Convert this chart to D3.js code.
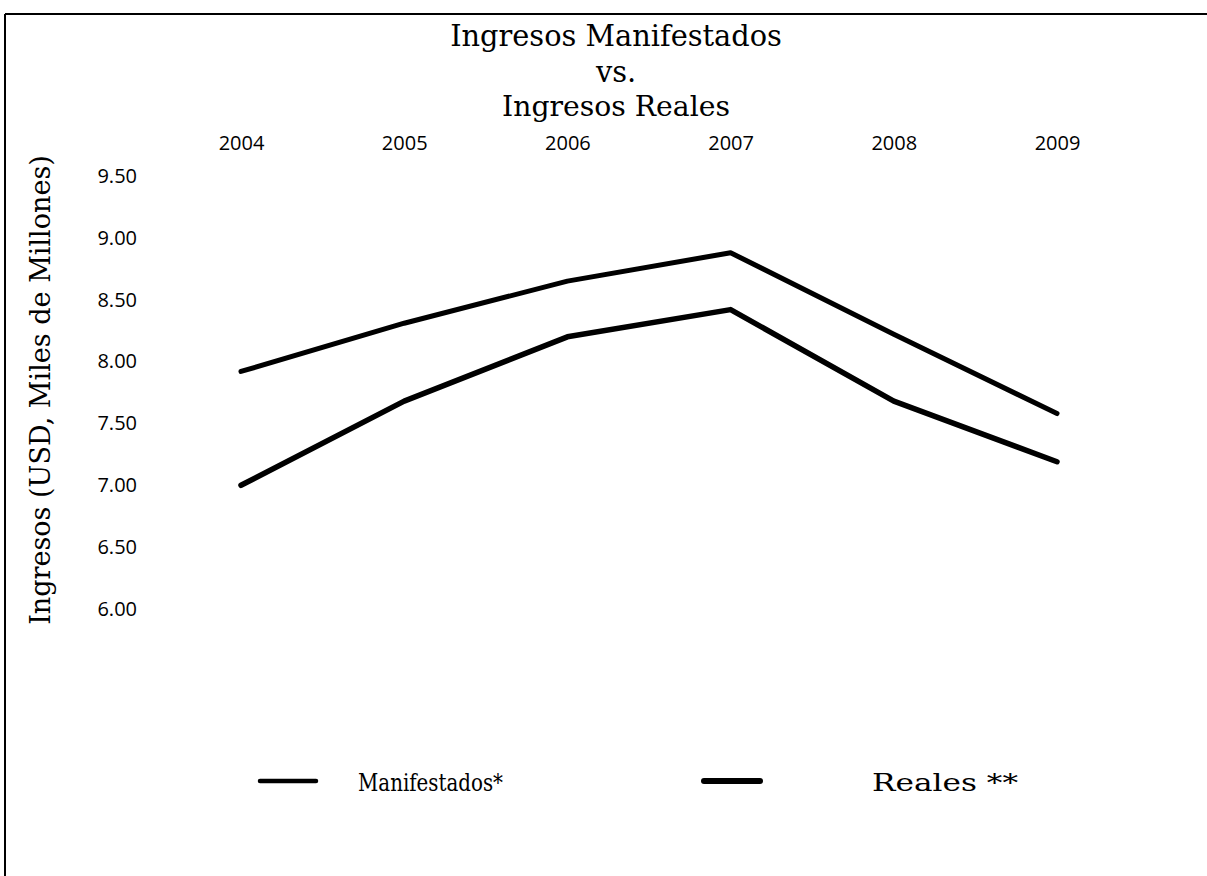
<!DOCTYPE html>
<html>
<head>
<meta charset="utf-8">
<script src="https://cdn.jsdelivr.net/npm/d3@7"></script>
<style>
  html, body { margin: 0; padding: 0; background: #fff; }
  svg { display: block; }
</style>
</head>
<body>
<svg id="chart" width="1207" height="876"></svg>
<script>
const years = ["2004", "2005", "2006", "2007", "2008", "2009"];
const manifestados = [7.92, 8.31, 8.65, 8.88, 8.22, 7.58];
const reales = [7.00, 7.68, 8.20, 8.42, 7.68, 7.19];
const yTicks = [6.0, 6.5, 7.0, 7.5, 8.0, 8.5, 9.0, 9.5];
const titleLines = ["Ingresos Manifestados", "vs.", "Ingresos Reales"];
const yAxisTitle = "Ingresos (USD, Miles de Millones)";
const legendLabels = ["Manifestados*", "Reales **"];

const svg = d3.select("#chart");
const serif = "'DejaVu Serif', 'Liberation Serif', serif";
const sans = "'Open Sans', 'Liberation Sans', sans-serif";

// frame (top and left edges visible)
svg.append("line").attr("x1", 5).attr("y1", 14).attr("x2", 1207).attr("y2", 14)
  .attr("stroke", "#000").attr("stroke-width", 2);
svg.append("line").attr("x1", 5).attr("y1", 14).attr("x2", 5).attr("y2", 876)
  .attr("stroke", "#000").attr("stroke-width", 2);

const x = d3.scalePoint().domain(years).range([241, 1057]);
const y = d3.scaleLinear().domain([6, 9.5]).range([609, 176]);

function fitText(sel, target) {
  const w = sel.node().getComputedTextLength();
  const fs = parseFloat(sel.attr("font-size"));
  sel.attr("font-size", fs * target / w);
}

// title
const titleY = [46, 82, 116];
const titleW = [332, null, 228];
let titleFs = 26;
titleLines.forEach((t, i) => {
  const tx = svg.append("text").attr("x", 616).attr("y", titleY[i])
    .attr("text-anchor", "middle").attr("font-family", serif)
    .attr("font-size", 24).attr("fill", "#000").text(t);
  if (i === 0) { fitText(tx, titleW[i]); titleFs = tx.attr("font-size"); }
  else if (titleW[i]) fitText(tx, titleW[i]);
  else tx.attr("font-size", titleFs);
});

// x axis (top)
const xAxis = d3.axisTop(x).tickSize(0).tickPadding(0);
const gx = svg.append("g").attr("transform", "translate(0,150)").call(xAxis);
gx.select(".domain").remove();
gx.selectAll("text").attr("font-family", sans).attr("font-size", 20).attr("fill", "#000");

// y axis
const yAxis = d3.axisLeft(y).tickValues(yTicks).tickFormat(d3.format(".2f")).tickSize(0).tickPadding(0);
const gy = svg.append("g").attr("transform", "translate(137,0)").call(yAxis);
gy.select(".domain").remove();
gy.selectAll("text").attr("font-family", sans).attr("font-size", 20).attr("fill", "#000");

// y axis title
const yt = svg.append("text")
  .attr("transform", "translate(50,390) rotate(-90)")
  .attr("text-anchor", "middle").attr("font-family", serif)
  .attr("font-size", 22).attr("fill", "#000").text(yAxisTitle);
fitText(yt, 470);

// lines
const line = d3.line().x((d, i) => x(years[i])).y(d => y(d));
svg.append("path").datum(manifestados).attr("d", line)
  .attr("fill", "none").attr("stroke", "#000").attr("stroke-width", 5)
  .attr("stroke-linejoin", "round").attr("stroke-linecap", "round");
svg.append("path").datum(reales).attr("d", line)
  .attr("fill", "none").attr("stroke", "#000").attr("stroke-width", 5.5)
  .attr("stroke-linejoin", "round").attr("stroke-linecap", "round");

// legend
const legend = [
  { label: legendLabels[0], x1: 260, x2: 316, tx: 358, w: 145, sw: 4.5 },
  { label: legendLabels[1], x1: 704, x2: 760, tx: 872, w: 146, sw: 6 }
];
legend.forEach(l => {
  svg.append("line").attr("x1", l.x1).attr("x2", l.x2).attr("y1", 781).attr("y2", 781)
    .attr("stroke", "#000").attr("stroke-width", l.sw).attr("stroke-linecap", "round");
  svg.append("text").attr("x", l.tx).attr("y", 791)
    .attr("font-family", serif).attr("font-size", 25).attr("fill", "#000")
    .attr("textLength", l.w).attr("lengthAdjust", "spacingAndGlyphs")
    .text(l.label);
});
</script>
</body>
</html>
